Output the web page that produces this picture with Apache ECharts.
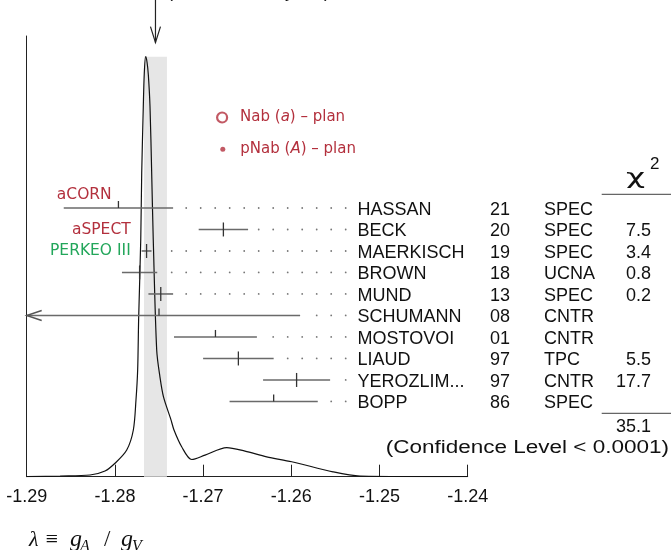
<!DOCTYPE html>
<html><head><meta charset="utf-8">
<script src="https://cdn.jsdelivr.net/npm/echarts@6.0.0/dist/echarts.min.js"></script>
<style>html,body{margin:0;padding:0;background:#fff}#c{width:671px;height:550px}</style>
</head><body><div id="c"></div>
<script>
// ---- data ----
const names   = ['HASSAN','BECK','MAERKISCH','BROWN','MUND','SCHUMANN','MOSTOVOI','LIAUD','YEROZLIM...','BOPP'];
const years   = ['21','20','19','18','13','08','01','97','97','86'];
const methods = ['SPEC','SPEC','SPEC','UCNA','SPEC','CNTR','CNTR','TPC','CNTR','SPEC'];
const values  = [-1.2796,-1.2677,-1.27641,-1.2772,-1.2748,-1.275,-1.2686,-1.266,-1.2594,-1.262];
const errors  = [0.0062,0.0028,0.00056,0.0020,0.0014,0.016,0.0047,0.004,0.0038,0.005];
const chi2    = [null,7.5,3.4,0.8,0.2,null,null,5.5,17.7,null];
const chi2Total = '35.1';
const confText = '(Confidence Level < 0.0001)';
const avgValue = -1.2754, avgError = 0.0013, scaleText = '(Error scaled by 2.7)';
const xTicks = [-1.29,-1.28,-1.27,-1.26,-1.25,-1.24];
const curveX = [-1.2900,-1.28622,-1.28282,-1.28112,-1.27999,-1.27866,-1.27791,-1.27761,-1.27742,-1.27731,-1.27707,-1.27696,-1.27678,-1.27667,-1.27651,-1.27636,-1.27621,-1.27602,-1.27583,-1.27565,-1.27526,-1.27489,-1.27449,-1.27364,-1.27330,-1.27243,-1.27129,-1.26978,-1.26732,-1.26525,-1.26279,-1.25995,-1.25527,-1.25221,-1.2400];
const curveY = [0,0.0016,0.0039,0.0129,0.0304,0.0606,0.106,0.174,0.242,0.356,0.537,0.689,0.840,0.915,0.953,0.941,0.912,0.840,0.689,0.537,0.287,0.226,0.181,0.129,0.106,0.068,0.039,0.049,0.066,0.058,0.045,0.034,0.011,0.0016,0];
const experiments = ['aCORN','aSPECT','PERKEO III'];
const plans = ['Nab (a) – plan','pNab (A) – plan'];

// ---- styles ----
const RED = '#b3303d', GREEN = '#22a65a';
const SANS = '"Liberation Sans", Arial, Helvetica, sans-serif';
const LSANS = '"DejaVu Sans", sans-serif';
const SERIF = '"Liberation Serif", "DejaVu Serif", serif';

const chart = echarts.init(document.getElementById('c'), null, {renderer:'canvas'});
const peak = Math.max(...curveY);

function renderRow(params, api){
  const idx = params.dataIndex;
  const v = api.value(0), row = api.value(1), e = api.value(2);
  const used = chi2[idx] != null;
  const xMin = xTicks[0];
  const c = api.coord([v,row]);
  const lo = api.coord([Math.max(v-e,xMin),row]);
  const hi = api.coord([v+e,row]);
  const y = c[1];
  const ch = [];
  ch.push({type:'line', shape:{x1:lo[0],y1:y,x2:hi[0],y2:y}, style:{stroke:'#6a6a6a', lineWidth:1.6}});
  ch.push({type:'line', shape:{x1:c[0],y1:y-7,x2:c[0],y2:used?y+7:y}, style:{stroke:'#333',lineWidth:1.3}});
  if (v-e < xMin) {
    ch.push({type:'polyline', shape:{points:[[lo[0]+15,y-5],[lo[0],y],[lo[0]+15,y+5]]}, style:{stroke:'#555', fill:'none', lineWidth:1.4}});
  }
  const nameX = 357.5, step = 14.5;
  for (let x = nameX - 11.8; x >= hi[0] + 10; x -= step) {
    ch.push({type:'circle', shape:{cx:x, cy:y, r:0.9}, style:{fill:'#777'}});
  }
  const ty = y + 1.8;
  const tf = '18px ' + SANS;
  ch.push({type:'text', x:nameX, y:ty, style:{text:names[idx], font:tf, fill:'#111', align:'left', verticalAlign:'middle'}});
  ch.push({type:'text', x:490, y:ty, style:{text:years[idx], font:tf, fill:'#111', align:'left', verticalAlign:'middle'}});
  ch.push({type:'text', x:544, y:ty, style:{text:methods[idx], font:tf, fill:'#111', align:'left', verticalAlign:'middle'}});
  if (used) ch.push({type:'text', x:651, y:ty, style:{text:chi2[idx].toFixed(1), font:tf, fill:'#111', align:'right', verticalAlign:'middle'}});
  return {type:'group', children: ch};
}

function renderAvgArrow(params, api){
  const tip = api.coord([api.value(0), api.value(1)]);
  return {type:'group', children:[
    {type:'line', shape:{x1:tip[0],y1:0,x2:tip[0],y2:tip[1]}, style:{stroke:'#222',lineWidth:1.2}},
    {type:'polyline', shape:{points:[[tip[0]-5,tip[1]-16],[tip[0],tip[1]],[tip[0]+5,tip[1]-16]]}, style:{stroke:'#222',fill:'none',lineWidth:1.2}}
  ]};
}

const option = {
  animation:false,
  backgroundColor:'#fff',
  grid:{left:26.7, right:203.3, top:36, bottom:73.3, containLabel:false},
  xAxis:{type:'value', min:xTicks[0], max:xTicks[xTicks.length-1], interval:0.01,
    axisLine:{show:true, lineStyle:{color:'#222', width:1}},
    axisTick:{show:true, inside:true, length:12, lineStyle:{color:'#222', width:1}},
    axisLabel:{show:true, margin:11, fontSize:18, fontFamily:SANS, color:'#111', formatter:v=>v.toFixed(2), showMinLabel:true, showMaxLabel:true},
    splitLine:{show:false}},
  yAxis:[
    {type:'value', min:0, max:1, axisLine:{show:true, lineStyle:{color:'#222', width:1}}, axisTick:{show:false}, axisLabel:{show:false}, splitLine:{show:false}},
    {type:'value', min:-8, max:12.5, inverse:true, show:false, splitLine:{show:false}}
  ],
  legend:[
    {data:[{name:plans[0], icon:'circle', itemStyle:{color:'#fff', borderColor:RED, borderWidth:2.2}}],
     left:216, top:110, padding:0, itemWidth:10, itemHeight:10, selectedMode:false,
     formatter:()=>'{n|Nab (}{i|a}{n|) – plan}',
     textStyle:{color:RED, fontSize:15, fontFamily:LSANS, padding:[0,0,0,8],
       rich:{n:{color:RED,fontSize:15,fontFamily:LSANS}, i:{color:RED,fontSize:15,fontFamily:LSANS,fontStyle:'italic'}}}},
    {data:[{name:plans[1], icon:'circle', itemStyle:{color:RED, borderWidth:0}}],
     left:220.3, top:141.7, padding:0, itemWidth:5, itemHeight:5, selectedMode:false,
     formatter:()=>'{n|pNab (}{i|A}{n|) – plan}',
     textStyle:{color:RED, fontSize:15, fontFamily:LSANS, padding:[0,0,0,10],
       rich:{n:{color:RED,fontSize:15,fontFamily:LSANS}, i:{color:RED,fontSize:15,fontFamily:LSANS,fontStyle:'italic'}}}}
  ],
  series:[
    {name:plans[0], type:'scatter', data:[], symbol:'circle', itemStyle:{color:'#fff', borderColor:RED, borderWidth:2}},
    {name:plans[1], type:'scatter', data:[], symbol:'circle', itemStyle:{color:RED}},
    {type:'line', name:'ideogram', data:curveX.map((x,i)=>[x,curveY[i]]), showSymbol:false, smooth:0.3,
     lineStyle:{color:'#111', width:1.2}, z:3, silent:true,
     markArea:{silent:true, itemStyle:{color:'#e6e6e6'}, data:[[{xAxis:avgValue-avgError, yAxis:0},{xAxis:avgValue+avgError, yAxis:peak}]]}},
    {type:'custom', name:'measurements', yAxisIndex:1, z:5, silent:true,
     data:values.map((v,i)=>[v,i,errors[i]]), encode:{x:0,y:1}, renderItem:renderRow},
    {type:'custom', name:'average', yAxisIndex:0, z:5, silent:true,
     data:[[avgValue,0.985]], encode:{x:0,y:1}, renderItem:renderAvgArrow}
  ],
  graphic:[
    {type:'text', x:162, y:-7.5, style:{text:avgValue.toFixed(4)+'±'+avgError.toFixed(4), font:'18px '+SANS, fill:'#111', align:'right', verticalAlign:'middle'}},
    {type:'text', x:167, y:-7.5, style:{text:scaleText, font:'18px '+SANS, fill:'#111', align:'left', verticalAlign:'middle'}},
    {type:'text', x:111.7, y:195, style:{text:experiments[0], font:'15.5px '+LSANS, fill:RED, align:'right', verticalAlign:'middle'}},
    {type:'text', x:130.7, y:230, style:{text:experiments[1], font:'15.5px '+LSANS, fill:RED, align:'right', verticalAlign:'middle'}},
    {type:'text', x:130.7, y:251, style:{text:experiments[2], font:'15.5px '+LSANS, fill:GREEN, align:'right', verticalAlign:'middle'}},
    {type:'text', x:635.5, y:178, scaleX:1.5, style:{text:'χ', font:'22px '+LSANS, fill:'#111', align:'center', verticalAlign:'middle'}},
    {type:'text', x:650, y:164, style:{text:'2', font:'17px '+SANS, fill:'#111', align:'left', verticalAlign:'middle'}},
    {type:'line', shape:{x1:601.7,y1:194.3,x2:671,y2:194.3}, style:{stroke:'#666', lineWidth:1.3}},
    {type:'line', shape:{x1:601.7,y1:413.3,x2:671,y2:413.3}, style:{stroke:'#666', lineWidth:1.3}},
    {type:'text', x:651, y:427, style:{text:chi2Total, font:'18px '+SANS, fill:'#111', align:'right', verticalAlign:'middle'}},
    {type:'text', x:669, y:448, scaleX:1.25, style:{text:confText, font:'18px '+SANS, fill:'#111', align:'right', verticalAlign:'middle'}},
    {type:'text', x:29, y:540, style:{text:'λ ≡', font:'italic 22px '+SERIF, fill:'#111', align:'left', verticalAlign:'middle'}},
    {type:'text', x:70, y:540, style:{text:'g', font:'italic 24px '+SERIF, fill:'#111', align:'left', verticalAlign:'middle'}},
    {type:'text', x:80, y:547, style:{text:'A', font:'italic 16px '+SERIF, fill:'#111', align:'left', verticalAlign:'middle'}},
    {type:'text', x:104, y:540, style:{text:'/', font:'23px '+SERIF, fill:'#111', align:'left', verticalAlign:'middle'}},
    {type:'text', x:121, y:540, style:{text:'g', font:'italic 24px '+SERIF, fill:'#111', align:'left', verticalAlign:'middle'}},
    {type:'text', x:132, y:547, style:{text:'V', font:'italic 16px '+SERIF, fill:'#111', align:'left', verticalAlign:'middle'}}
  ]
};
chart.setOption(option);
</script></body></html>
